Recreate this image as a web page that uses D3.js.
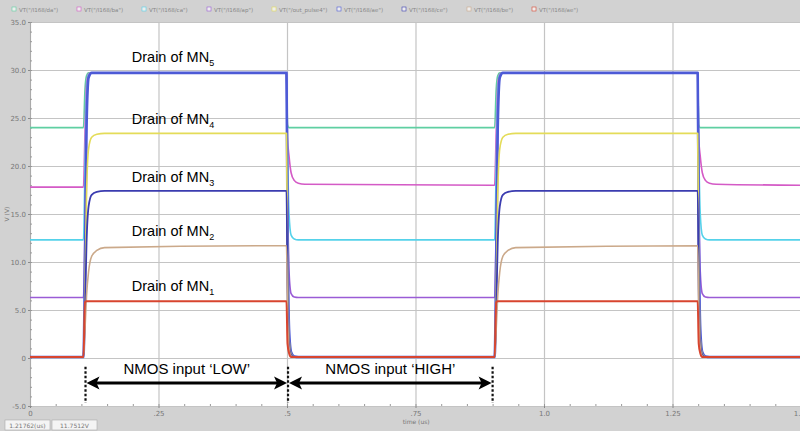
<!DOCTYPE html>
<html>
<head>
<meta charset="utf-8">
<script src="https://cdn.jsdelivr.net/npm/d3@7"></script>
<style>
  html, body { margin: 0; padding: 0; background: #d2d2d2; }
  svg { display: block; }
</style>
</head>
<body>
<svg id="chart" width="800" height="431"></svg>
<script>
// legend entries of the simulator window
const legendNames = ['VT("/I168/da")', 'VT("/I168/ba")', 'VT("/I168/ca")', 'VT("/I168/ap")',
                     'VT("/out_pulse4")', 'VT("/I168/ae")', 'VT("/I168/ce")', 'VT("/I168/be")', 'VT("/I168/ae")'];

const xTickValues = [0, 0.25, 0.5, 0.75, 1.0, 1.25, 1.5];
const xTickLabels = ["0", ".25", ".5", ".75", "1.0", "1.25", "1."];
const yTickValues = [-5, 0, 5, 10, 15, 20, 25, 30, 35];
const yTickLabels = ["-5.0", "0", "5.0", "10.0", "15.0", "20.0", "25.0", "30.0", "35.0"];

// sample times (us), shared by all traces
const time = [0, 0.104, 0.107, 0.110, 0.114, 0.120, 0.130, 0.145,
              0.499, 0.501, 0.504, 0.508, 0.514, 0.522, 0.535,
              0.904, 0.907, 0.910, 0.914, 0.920, 0.930, 0.945,
              1.299, 1.301, 1.304, 1.308, 1.314, 1.322, 1.335, 1.5];

// node voltages (V)
const vGreen   = [24.0, 24.0, 28.0, 29.4, 29.7, 29.7, 29.7, 29.7, 29.7, 24.3, 24.0, 24.0, 24.0, 24.0, 24.0,
                  24.0, 28.0, 29.4, 29.7, 29.7, 29.7, 29.7, 29.7, 24.3, 24.0, 24.0, 24.0, 24.0, 24.0, 24.0];
const vMagenta = [17.8, 17.8, 23.5, 28.5, 29.6, 29.7, 29.7, 29.7, 29.7, 23.0, 21.0, 19.3, 18.5, 18.2, 18.1,
                  18.0, 23.5, 28.5, 29.6, 29.7, 29.7, 29.7, 29.7, 23.0, 21.0, 19.3, 18.5, 18.2, 18.1, 18.0];
const vCyan    = [12.3, 12.3, 20.0, 27.5, 29.5, 29.7, 29.7, 29.7, 29.7, 22.0, 15.0, 12.8, 12.4, 12.3, 12.3,
                  12.3, 20.0, 27.5, 29.5, 29.7, 29.7, 29.7, 29.7, 22.0, 15.0, 12.8, 12.4, 12.3, 12.3, 12.3];
const vPurple  = [6.3, 6.3, 14.0, 25.0, 29.3, 29.7, 29.7, 29.7, 29.7, 18.0, 9.0, 6.7, 6.35, 6.3, 6.3,
                  6.3, 14.0, 25.0, 29.3, 29.7, 29.7, 29.7, 29.7, 18.0, 9.0, 6.7, 6.35, 6.3, 6.3, 6.3];
const vBlue    = [0.1, 0.1, 10.0, 24.0, 29.2, 29.7, 29.7, 29.7, 29.7, 14.0, 3.0, 0.6, 0.15, 0.1, 0.1,
                  0.1, 10.0, 24.0, 29.2, 29.7, 29.7, 29.7, 29.7, 14.0, 3.0, 0.6, 0.15, 0.1, 0.1, 0.1];
const vYellow  = [0.1, 0.1, 7.0, 17.0, 21.8, 23.0, 23.3, 23.4, 23.4, 10.0, 2.0, 0.4, 0.1, 0.1, 0.1,
                  0.1, 7.0, 17.0, 21.8, 23.0, 23.3, 23.4, 23.4, 10.0, 2.0, 0.4, 0.1, 0.1, 0.1, 0.1];
const vNavy    = [0.1, 0.1, 5.0, 12.0, 15.8, 17.0, 17.3, 17.4, 17.4, 7.0, 1.5, 0.3, 0.1, 0.1, 0.1,
                  0.1, 5.0, 12.0, 15.8, 17.0, 17.3, 17.4, 17.4, 7.0, 1.5, 0.3, 0.1, 0.1, 0.1, 0.1];
const vTan     = [0.1, 0.1, 3.0, 6.5, 9.0, 10.6, 11.2, 11.5, 11.7, 5.0, 1.0, 0.2, 0.1, 0.1, 0.1,
                  0.1, 3.0, 6.5, 9.0, 10.6, 11.2, 11.5, 11.7, 5.0, 1.0, 0.2, 0.1, 0.1, 0.1, 0.1];
const vRed     = [0.1, 0.1, 5.8, 5.9, 5.9, 5.9, 5.9, 5.9, 5.9, 1.5, 0.5, 0.1, 0.1, 0.1, 0.1,
                  0.1, 5.8, 5.9, 5.9, 5.9, 5.9, 5.9, 5.9, 1.5, 0.5, 0.1, 0.1, 0.1, 0.1, 0.1];

// input phase boundaries (us) and their captions
const phaseEdges = [0.108, 0.502, 0.900];
const phaseNames = ["NMOS input \u2018LOW\u2019", "NMOS input \u2018HIGH\u2019"];
const drainIndex = [5, 4, 3, 2, 1];

const traces = [
  { v: vGreen,   color: "#5fcfa2", w: 1.6 },
  { v: vMagenta, color: "#d45ac6", w: 1.6 },
  { v: vCyan,    color: "#55d2ea", w: 1.6 },
  { v: vPurple,  color: "#9a5cd6", w: 1.6 },
  { v: vBlue,    color: "#4d5ad6", w: 2.6 },
  { v: vYellow,  color: "#e4dc58", w: 1.6 },
  { v: vNavy,    color: "#3b3cb0", w: 1.8 },
  { v: vTan,     color: "#cba98a", w: 1.6 },
  { v: vRed,     color: "#d8452f", w: 2.0 }
];
const legendColors = ["#5fcfa2", "#d45ac6", "#55d2ea", "#9a5cd6", "#e4dc58", "#4d5ad6", "#3b3cb0", "#cba98a", "#d8452f"];

const W = 800, H = 431;
const m = { top: 22, right: -1, bottom: 25, left: 30 };
const svg = d3.select("#chart");

svg.append("rect").attr("width", W).attr("height", H).attr("fill", "#d2d2d2");

const x = d3.scaleLinear().domain([0, 1.5]).range([m.left, W - m.right]);
const y = d3.scaleLinear().domain([-5, 35]).range([H - m.bottom, m.top]);

// plot area
svg.append("rect")
  .attr("x", m.left).attr("y", m.top)
  .attr("width", x(1.5) - m.left).attr("height", y(-5) - m.top)
  .attr("fill", "#fff");

// grid
svg.append("g")
  .attr("transform", `translate(${m.left},0)`)
  .call(d3.axisRight(y).tickValues(yTickValues).tickSize(x(1.5) - m.left).tickFormat(""))
  .call(g => g.select(".domain").remove())
  .call(g => g.selectAll("line").attr("stroke", "#c4c4c4").attr("stroke-width", 1.2));

svg.append("g")
  .attr("transform", `translate(0,${m.top})`)
  .call(d3.axisBottom(x).tickValues(xTickValues).tickSize(y(-5) - m.top).tickFormat(""))
  .call(g => g.select(".domain").remove())
  .call(g => g.selectAll("line").attr("stroke", "#c4c4c4").attr("stroke-width", 1.2));

// minor ticks
svg.append("g")
  .attr("transform", `translate(0,${y(-5)})`)
  .call(d3.axisTop(x).ticks(30).tickSize(2).tickFormat(""))
  .call(g => g.select(".domain").remove())
  .call(g => g.selectAll("line").attr("stroke", "#999"));
svg.append("g")
  .attr("transform", `translate(${m.left},0)`)
  .call(d3.axisRight(y).ticks(40).tickSize(2).tickFormat(""))
  .call(g => g.select(".domain").attr("stroke", "#aaa"))
  .call(g => g.selectAll("line").attr("stroke", "#999"));

// axis labels
svg.append("g")
  .attr("transform", `translate(${m.left},0)`)
  .call(d3.axisLeft(y).tickValues(yTickValues).tickSize(2).tickFormat((d, i) => yTickLabels[i]))
  .call(g => g.select(".domain").remove())
  .call(g => g.selectAll("line").attr("stroke", "#888"))
  .call(g => g.selectAll("text").attr("fill", "#777").attr("font-size", 7)
              .attr("font-family", "DejaVu Sans, sans-serif").attr("dx", 1));

svg.append("g")
  .attr("transform", `translate(0,${y(-5)})`)
  .call(d3.axisBottom(x).tickValues(xTickValues).tickSize(2).tickFormat((d, i) => xTickLabels[i]))
  .call(g => g.select(".domain").remove())
  .call(g => g.selectAll("line").attr("stroke", "#888"))
  .call(g => g.selectAll("text").attr("fill", "#777").attr("font-size", 7)
              .attr("font-family", "DejaVu Sans, sans-serif"))
  .call(g => g.selectAll(".tick:last-of-type text").attr("text-anchor", "end").attr("dx", -1));

svg.append("text")
  .attr("transform", `translate(9,${y(15)}) rotate(-90)`)
  .attr("text-anchor", "middle").attr("font-size", 6).attr("fill", "#777")
  .attr("font-family", "DejaVu Sans, sans-serif").text("V (V)");

svg.append("text")
  .attr("x", x(0.725)).attr("y", 424)
  .attr("font-size", 6).attr("fill", "#777")
  .attr("font-family", "DejaVu Sans, sans-serif").text("time (us)");

// traces
const line = d3.line()
  .x((d, i) => x(time[i]))
  .y(d => y(d))
  .curve(d3.curveMonotoneX);

const plot = svg.append("g");
plot.append("clipPath").attr("id", "clip").append("rect")
  .attr("x", m.left).attr("y", m.top).attr("width", x(1.5) - m.left).attr("height", y(-5) - m.top);

plot.selectAll(".trace").data(traces).enter().append("path")
  .attr("class", "trace")
  .attr("clip-path", "url(#clip)")
  .attr("d", d => line(d.v))
  .attr("fill", "none")
  .attr("stroke", d => d.color)
  .attr("stroke-width", d => d.w)
  .attr("stroke-linejoin", "round");

// legend bar
const leg = svg.append("g").attr("font-family", "DejaVu Sans, sans-serif").attr("font-size", 5.5);
legendNames.forEach((n, i) => {
  const lx = 12 + i * 65;
  leg.append("rect").attr("x", lx).attr("y", 7).attr("width", 4).attr("height", 4)
    .attr("fill", "#eee").attr("stroke", legendColors[i]).attr("stroke-width", 0.6);
  leg.append("text").attr("x", lx + 7).attr("y", 11.5).attr("fill", "#888").text(n);
});

// drain labels
const ann = svg.append("g").attr("font-family", "Liberation Sans, Arial, sans-serif").attr("fill", "#000");
const drainAt = [30.8, 24.4, 18.3, 12.7, 7.0];
drainIndex.forEach((k, i) => {
  const t = ann.append("text").attr("x", x(0.198)).attr("y", y(drainAt[i])).attr("font-size", 14.5);
  t.append("tspan").text("Drain of MN");
  t.append("tspan").attr("font-size", 9).attr("dy", 4).text(k);
});

// phase arrows
const ay = y(-2.6);
phaseEdges.forEach(t => {
  ann.append("line")
    .attr("x1", x(t)).attr("x2", x(t))
    .attr("y1", y(-0.9)).attr("y2", y(-4.7))
    .attr("stroke", "#111").attr("stroke-width", 2.2).attr("stroke-dasharray", "2.5,2");
});
function head(px, dir) {
  // dir: +1 points right, -1 points left
  const L = 13, h = 6.5;
  return `M${px},${ay} L${px - dir * L},${ay - h} L${px - dir * (L - 3)},${ay} L${px - dir * L},${ay + h} Z`;
}
phaseNames.forEach((name, i) => {
  const x0 = x(phaseEdges[i]) + 1, x1 = x(phaseEdges[i + 1]) - 1;
  ann.append("line").attr("x1", x0 + 8).attr("x2", x1 - 8).attr("y1", ay).attr("y2", ay)
    .attr("stroke", "#000").attr("stroke-width", 3);
  ann.append("path").attr("d", head(x0, -1)).attr("fill", "#000");
  ann.append("path").attr("d", head(x1, 1)).attr("fill", "#000");
  ann.append("text").attr("x", (x0 + x1) / 2).attr("y", y(-1.7))
    .attr("text-anchor", "middle").attr("font-size", 15).text(name);
});

// cursor readout boxes
const readout = ["1.21762(us)", "11.7512V"];
readout.forEach((s, i) => {
  const bx = 5 + i * 47;
  svg.append("rect").attr("x", bx).attr("y", 420).attr("width", 45).attr("height", 10)
    .attr("fill", "#f4f4f4").attr("stroke", "#aaa").attr("stroke-width", 0.6);
  svg.append("text").attr("x", bx + 22.5).attr("y", 427.5).attr("text-anchor", "middle")
    .attr("font-size", 6).attr("fill", "#777").attr("font-family", "DejaVu Sans, sans-serif").text(s);
});
</script>
</body>
</html>
